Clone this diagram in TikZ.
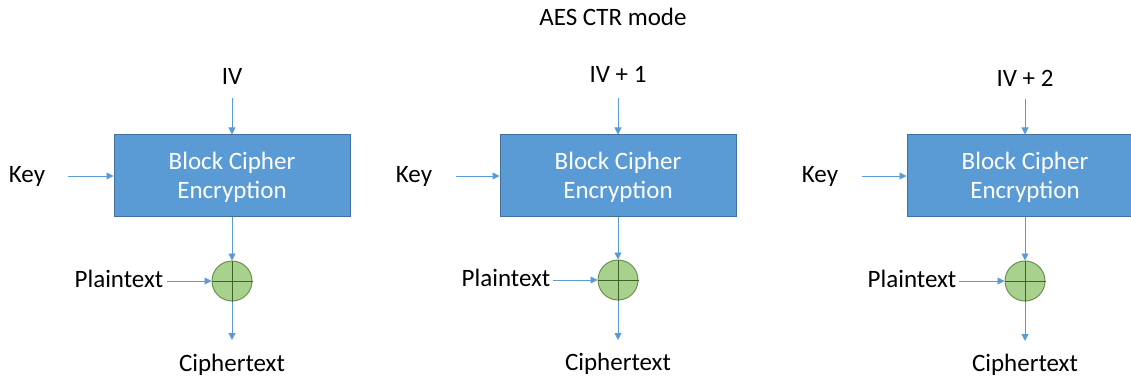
\documentclass[tikz,border=0pt]{standalone}
\usepackage{fontspec}
\setmainfont{Carlito}
\usepackage{tikz}
\usetikzlibrary{arrows.meta}
\definecolor{boxblue}{HTML}{5B9BD5}
\definecolor{boxedge}{HTML}{41719C}
\definecolor{xorfill}{HTML}{A9D18E}
\definecolor{xoredge}{HTML}{6A9150}
\definecolor{xorcross}{HTML}{3E6328}
\tikzset{lbl/.style = {inner sep=0pt, font=\fontsize{25}{29}\selectfont},
         enc/.style = {rectangle, draw=boxedge, fill=boxblue, line width=1pt,
                       minimum width=236pt, minimum height=82pt, text=white,
                       align=center, font=\fontsize{25}{29}\selectfont},
         xor/.style = {circle, draw=xoredge, fill=xorfill, line width=1pt,
                       minimum size=40pt, inner sep=0pt},
         flow/.style = {draw=boxblue, line width=0.9pt,
                        -{Triangle[length=7pt,width=7pt]}}}

\begin{document}
\begin{tikzpicture}[x=1pt, y=-1pt]
        \useasboundingbox (0,0) rectangle (1131,379);
        \clip (0,0) rectangle (1131,379);

        \node [lbl, anchor=base] (title) at (613, 26) {AES CTR mode};

        \begin{scope}[xshift=232pt]
            \node [lbl, anchor=base] (iv)  at (   0,  85) {IV};
            \node [lbl, anchor=base] (key) at (-205, 183) {Key};
            \node [enc] (E) at (0, 176) {\rule{0pt}{21pt}Block Cipher\\Encryption};
            \node [xor] (X) at (0, 281) {};
            \node [lbl, anchor=base] (pt)  at (-113, 287) {Plaintext};
            \node [lbl, anchor=base] (ct)  at (   0, 371) {Ciphertext};

            \coordinate (ivout)  at (   0,  98);
            \coordinate (keyout) at (-164, 176);
            \coordinate (ptout)  at ( -65, 281);
            \coordinate (ctin)   at (   0, 340);

            \draw [xorcross, line width=1pt] (X.north) -- (X.south) (X.west) -- (X.east);
            \draw [flow] (ivout) -- (E.north);
            \draw [flow] (keyout) -- (E.west);
            \draw [flow] (E.south) -- (X.north);
            \draw [flow] (ptout) -- (X.west);
            \draw [flow] (X.south) -- (ctin);
        \end{scope}

        \begin{scope}[xshift=618pt]
            \node [lbl, anchor=base] (iv)  at (   0,  83) {IV + 1};
            \node [lbl, anchor=base] (key) at (-204, 183) {Key};
            \node [enc] (E) at (0, 176) {\rule{0pt}{21pt}Block Cipher\\Encryption};
            \node [xor] (X) at (0, 280) {};
            \node [lbl, anchor=base] (pt)  at (-112, 286) {Plaintext};
            \node [lbl, anchor=base] (ct)  at (   0, 370) {Ciphertext};

            \coordinate (ivout)  at (   0,  98);
            \coordinate (keyout) at (-162, 176);
            \coordinate (ptout)  at ( -65, 280);
            \coordinate (ctin)   at (   0, 340);

            \draw [xorcross, line width=1pt] (X.north) -- (X.south) (X.west) -- (X.east);
            \draw [flow] (ivout) -- (E.north);
            \draw [flow] (keyout) -- (E.west);
            \draw [flow] (E.south) -- (X.north);
            \draw [flow] (ptout) -- (X.west);
            \draw [flow] (X.south) -- (ctin);
        \end{scope}

        \begin{scope}[xshift=1025pt]
            \node [lbl, anchor=base] (iv)  at (   0,  87) {IV + 2};
            \node [lbl, anchor=base] (key) at (-205, 183) {Key};
            \node [enc] (E) at (0, 176) {\rule{0pt}{21pt}Block Cipher\\Encryption};
            \node [xor] (X) at (0, 281) {};
            \node [lbl, anchor=base] (pt)  at (-113, 287) {Plaintext};
            \node [lbl, anchor=base] (ct)  at (   0, 371) {Ciphertext};

            \coordinate (ivout)  at (   0,  99);
            \coordinate (keyout) at (-163, 176);
            \coordinate (ptout)  at ( -66, 281);
            \coordinate (ctin)   at (   0, 341);

            \draw [xorcross, line width=1pt] (X.north) -- (X.south) (X.west) -- (X.east);
            \draw [flow] (ivout) -- (E.north);
            \draw [flow] (keyout) -- (E.west);
            \draw [flow] (E.south) -- (X.north);
            \draw [flow] (ptout) -- (X.west);
            \draw [flow] (X.south) -- (ctin);
        \end{scope}
    \end{tikzpicture}
\end{document}
